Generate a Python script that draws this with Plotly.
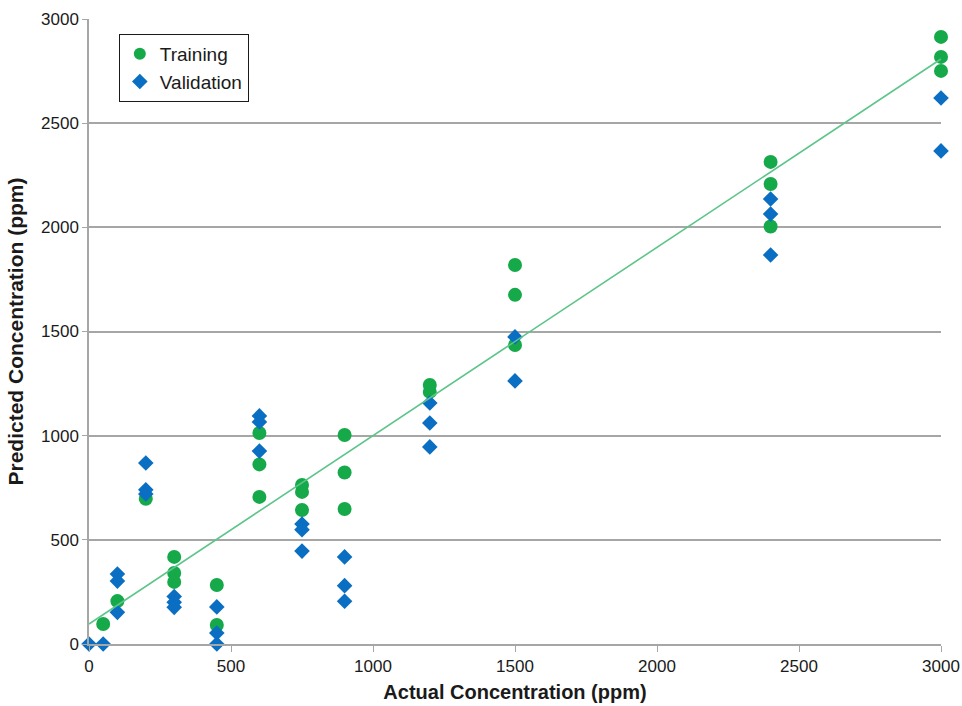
import plotly.graph_objects as go

# Actual vs. predicted concentrations (ppm)
train_actual = [50, 100, 200, 300, 300, 300, 450, 450, 600, 600, 600,
                750, 750, 750, 900, 900, 900, 1200, 1200, 1500, 1500, 1500,
                2400, 2400, 2400, 3000, 3000, 3000]
train_pred = [96, 206, 697, 418, 341, 298, 283, 91, 1013, 862, 706,
              763, 730, 643, 1003, 823, 648, 1243, 1210, 1819, 1676, 1435,
              2314, 2208, 2004, 2914, 2818, 2751]

valid_actual = [0, 50, 100, 100, 100, 200, 200, 200, 300, 300, 300,
                450, 450, 450, 600, 600, 600, 750, 750, 750, 900, 900, 900,
                1200, 1200, 1200, 1500, 1500, 2400, 2400, 2400, 3000, 3000]
valid_pred = [0, 0, 336, 302, 152, 869, 740, 720, 228, 200, 176,
              178, 53, 0, 1095, 1066, 926, 576, 549, 446, 418, 280, 205,
              1157, 1061, 946, 1474, 1263, 2136, 2064, 1867, 2621, 2367]

# Linear trend of the training set
fit_slope = 0.904
fit_intercept = 96
fit_x = [0, 3000]

x_ticks = [0, 500, 1000, 1500, 2000, 2500, 3000]
y_ticks = [0, 500, 1000, 1500, 2000, 2500, 3000]

green = "#16a94a"
blue = "#0a6fc2"
line_green = "#5dc48a"
grid = "#a6a6a6"
font = "Liberation Sans, Arial, sans-serif"

fig = go.Figure()
fig.add_trace(go.Scatter(
    x=train_actual, y=train_pred, mode="markers", name="Training",
    marker=dict(symbol="circle", size=14, color=green),
    cliponaxis=False,
))
fig.add_trace(go.Scatter(
    x=valid_actual, y=valid_pred, mode="markers", name="Validation",
    marker=dict(symbol="diamond", size=12, color=blue),
    cliponaxis=False,
))
fig.add_trace(go.Scatter(
    x=fit_x, y=[fit_slope * v + fit_intercept for v in fit_x],
    mode="lines", line=dict(color=line_green, width=1.6),
    showlegend=False, hoverinfo="skip",
))

fig.update_layout(
    width=962, height=706,
    margin=dict(l=89, r=21, t=19, b=62),
    paper_bgcolor="white", plot_bgcolor="white",
    font=dict(family=font, size=17, color="#1a1a1a"),
    legend=dict(
        x=0.035, y=0.976, xanchor="left", yanchor="top",
        bordercolor="#1a1a1a", borderwidth=1, bgcolor="white",
        font=dict(size=19), itemsizing="constant",
        tracegroupgap=0, itemwidth=30,
    ),
    xaxis=dict(
        range=[0, 3000], tickvals=x_ticks, automargin=False,
        showgrid=False, zeroline=False,
        showline=True, linecolor=grid, linewidth=1.5,
        ticks="outside", ticklen=6, tickcolor=grid,
        title=dict(text="<b>Actual Concentration (ppm)</b>",
                   font=dict(size=20), standoff=10),
    ),
    yaxis=dict(
        range=[0, 3000], tickvals=y_ticks, automargin=False,
        showgrid=True, gridcolor=grid, gridwidth=1.5,
        zeroline=False,
        showline=True, linecolor=grid, linewidth=1.5,
        ticks="outside", ticklen=5, tickcolor=grid,
        title=dict(text="<b>Predicted Concentration (ppm)</b>",
                   font=dict(size=21), standoff=12),
    ),
)

fig.write_html("out.html")
